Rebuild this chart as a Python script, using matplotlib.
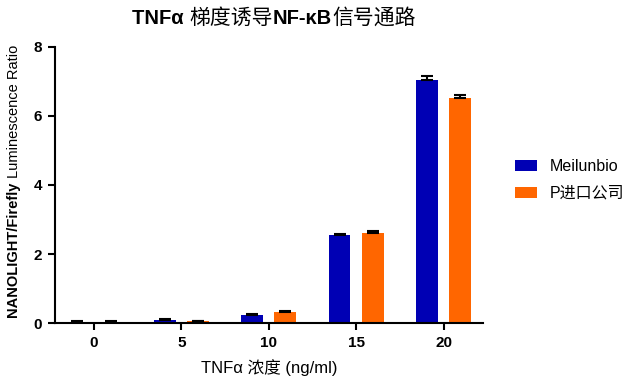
import matplotlib.pyplot as plt
import numpy as np

plt.rcParams['font.family'] = ['Liberation Sans', 'Noto Sans CJK SC']

doses = ['0', '5', '10', '15', '20']
meilunbio = [0.03, 0.09, 0.23, 2.55, 7.03]
meilunbio_err = [0.02, 0.02, 0.02, 0.04, 0.13]
import_p = [0.04, 0.05, 0.31, 2.62, 6.52]
import_p_err = [0.02, 0.02, 0.04, 0.05, 0.09]

blue = '#0000b4'
orange = '#ff6600'

fig = plt.figure(figsize=(6.37, 3.85), dpi=100)
ax = fig.add_axes([0.086, 0.161, 0.672, 0.717])

x = np.arange(len(doses))
w = 0.25
off = 0.19
ax.bar(x - off, meilunbio, w, color=blue, label='Meilunbio',
       yerr=[np.zeros(len(x)), meilunbio_err], capsize=4,
       error_kw=dict(elinewidth=1.5, capthick=1.5, ecolor='black'))
ax.bar(x + off, import_p, w, color=orange, label='P进口公司',
       yerr=[np.zeros(len(x)), import_p_err], capsize=4,
       error_kw=dict(elinewidth=1.5, capthick=1.5, ecolor='black'))

ax.set_xlim(-0.45, 4.45)
ax.set_ylim(0, 8)
ax.set_yticks([0, 2, 4, 6, 8])
ax.set_xticks(x)
ax.set_xticklabels(doses)
for lab in ax.get_xticklabels() + ax.get_yticklabels():
    lab.set_fontweight('bold')
    lab.set_fontsize(11)

ax.spines['top'].set_visible(False)
ax.spines['right'].set_visible(False)
ax.spines['left'].set_linewidth(1.5)
ax.spines['bottom'].set_linewidth(1.5)
ax.tick_params(width=1.5, length=5, pad=4)

ax.set_xlabel('TNFα 浓度 (ng/ml)', fontsize=12, labelpad=7)

ax.legend(loc='upper left', bbox_to_anchor=(0.8085, 0.587), bbox_transform=fig.transFigure,
          frameon=False, borderpad=0, borderaxespad=0, fontsize=11.5,
          handlelength=1.4, handleheight=0.63, handletextpad=0.8, labelspacing=0.75)

# texts with mixed weights
fig.canvas.draw()
r = fig.canvas.get_renderer()

# title pieces, left to right
parts = [('TNFα ', 'bold', 14.5), ('梯度诱导', 'normal', 15), ('NF-κB', 'bold', 14.5), ('信号通路', 'normal', 15)]
xp = 132
for s, wt, fs in parts:
    t = fig.text(xp / 637, 1 - 16 / 385, s, fontsize=fs, fontweight=wt, ha='left', va='center_baseline')
    bb = t.get_window_extent(r)
    xp += bb.width

# y label pieces, bottom to top
yparts = [('NANOLIGHT/Firefly ', 'bold'), ('Luminescence Ratio', 'normal')]
yp = 385 - 318
for s, wt in yparts:
    t = fig.text(14 / 637, yp / 385, s, fontsize=10.5, fontweight=wt, rotation=90,
                 ha='center', va='bottom')
    bb = t.get_window_extent(r)
    yp += bb.height

fig.savefig('out.png', dpi=100)
